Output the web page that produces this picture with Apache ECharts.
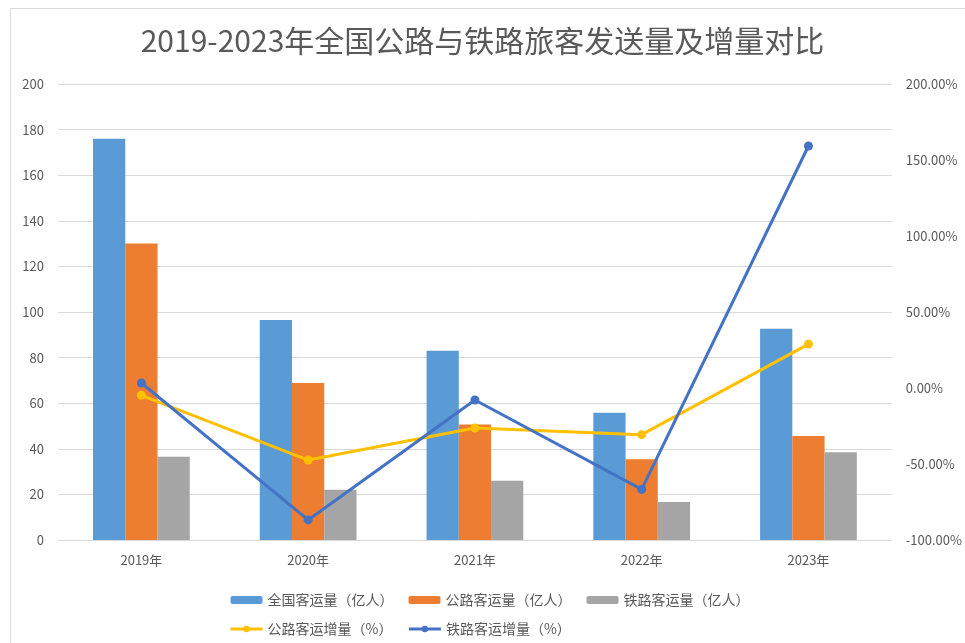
<!DOCTYPE html>
<html>
<head>
<meta charset="utf-8">
<script src="https://cdn.jsdelivr.net/npm/echarts@6/dist/echarts.min.js"></script>
<style>
html,body{margin:0;padding:0;background:#fff;}
#frame{position:absolute;left:10px;top:8px;width:960px;height:640px;border-left:1px solid #d9d9d9;border-top:1px solid #d9d9d9;}
#chart{position:absolute;left:0;top:0;width:965px;height:643px;}
</style>
</head>
<body>
<div id="frame"></div>
<div id="chart"></div>
<script>
const categories = ['2019年','2020年','2021年','2022年','2023年'];
const nationalPassengers = [176, 96.5, 83, 55.8, 92.7];
const roadPassengers = [130, 68.9, 50.7, 35.4, 45.6];
const railPassengers = [36.5, 22, 26, 16.7, 38.5];
const roadGrowth = [-4.8, -47.4, -26.3, -30.7, 28.9];
const railGrowth = [3.3, -86.8, -7.9, -66.7, 159.2];

const font = '"Noto Sans CJK SC", "Noto Sans", sans-serif';
const txt = '#595959';

const chart = echarts.init(document.getElementById('chart'));
chart.setOption({
  backgroundColor: 'transparent',
  animation: false,
  textStyle: { fontFamily: font },
  title: {
    text: '2019-2023年全国公路与铁路旅客发送量及增量对比',
    left: 'center',
    top: 21,
    textStyle: { fontFamily: font, fontSize: 30, fontWeight: 'normal', color: txt }
  },
  legend: {
    left: 224,
    top: 588,
    width: 540,
    itemWidth: 32,
    itemHeight: 8,
    itemGap: 15,
    lineStyle: { width: 3 },
    textStyle: { fontFamily: font, fontSize: 14, color: txt },
    data: ['全国客运量（亿人）','公路客运量（亿人）','铁路客运量（亿人）','公路客运增量（%）','铁路客运增量（%）']
  },
  grid: { left: 58, right: 72, top: 84, bottom: 103 },
  xAxis: {
    type: 'category',
    data: categories,
    axisLine: { lineStyle: { color: '#d9d9d9', width: 1 } },
    axisTick: { show: false },
    axisLabel: { color: txt, fontSize: 13, margin: 14, fontFamily: font }
  },
  yAxis: [
    {
      type: 'value', min: 0, max: 200, interval: 20,
      axisLine: { show: false }, axisTick: { show: false },
      axisLabel: { color: txt, fontSize: 13, margin: 14, fontFamily: font },
      splitLine: { lineStyle: { color: '#d9d9d9', width: 1 } }
    },
    {
      type: 'value', min: -100, max: 200, interval: 50,
      axisLine: { show: false }, axisTick: { show: false },
      axisLabel: { color: txt, fontSize: 13, margin: 14, fontFamily: font,
        formatter: v => v.toFixed(2) + '%' },
      splitLine: { show: false }
    }
  ],
  series: [
    { name: '全国客运量（亿人）', type: 'bar', data: nationalPassengers, barGap: '0%', barCategoryGap: '42%',
      itemStyle: { color: '#5B9BD5' } },
    { name: '公路客运量（亿人）', type: 'bar', data: roadPassengers, barGap: '0%', barCategoryGap: '42%',
      itemStyle: { color: '#ED7D31' } },
    { name: '铁路客运量（亿人）', type: 'bar', data: railPassengers, barGap: '0%', barCategoryGap: '42%',
      itemStyle: { color: '#A5A5A5' } },
    { name: '公路客运增量（%）', type: 'line', yAxisIndex: 1, data: roadGrowth,
      symbol: 'circle', symbolSize: 9,
      lineStyle: { color: '#FFC000', width: 3 }, itemStyle: { color: '#FFC000' } },
    { name: '铁路客运增量（%）', type: 'line', yAxisIndex: 1, data: railGrowth,
      symbol: 'circle', symbolSize: 9,
      lineStyle: { color: '#4472C4', width: 3 }, itemStyle: { color: '#4472C4' } }
  ]
});
</script>
</body>
</html>
